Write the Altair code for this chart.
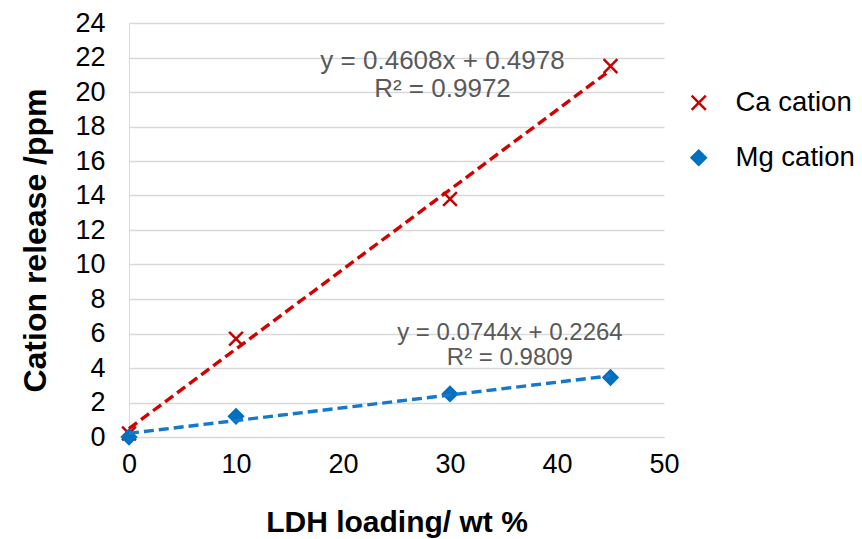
import altair as alt
import pandas as pd

loading = [0, 10, 30, 45]
ca_release = [0.2, 5.7, 13.8, 21.5]
mg_release = [0.0, 1.2, 2.5, 3.45]
series_names = ["Ca cation", "Mg cation"]
series_colors = ["#C80000", "#0070C0"]
line_colors = ["#D40000", "#1478CC"]
cross_path = "M-1,-1L1,1M-1,1L1,-1"
series_shapes = [cross_path, "diamond"]
x_ticks = [0, 10, 20, 30, 40, 50]
y_ticks = [0, 2, 4, 6, 8, 10, 12, 14, 16, 18, 20, 22, 24]

ann_text = ["y = 0.4608x + 0.4978", "R² = 0.9972", "y = 0.0744x + 0.2264", "R² = 0.9809"]
ann_x = [29.3, 29.3, 35.6, 35.6]
ann_y = [21.8, 20.2, 6.05, 4.6]
ann_size = [26, 26, 24, 24]

FONT = "Liberation Sans"

df = pd.DataFrame({
    "x": loading * 2,
    "y": ca_release + mg_release,
    "series": [series_names[0]] * 4 + [series_names[1]] * 4,
})
ann = pd.DataFrame({"x": ann_x, "y": ann_y, "t": ann_text, "s": ann_size})

xs = alt.Scale(domain=[0, 50], nice=False, zero=False)
ys = alt.Scale(domain=[0, 24], nice=False, zero=False)
cscale = alt.Scale(domain=series_names, range=series_colors)
lscale = alt.Scale(domain=series_names, range=line_colors)

x_axis = alt.Axis(title="LDH loading/ wt %", values=x_ticks, tickCount=6,
                  grid=False, ticks=False, domain=True, domainColor="#D9D9D9",
                  labelFontSize=27, labelPadding=14, labelColor="#000000",
                  labelFlush=False, labelOverlap=False,
                  labelFont=FONT, titleFont=FONT, titleFontSize=30,
                  titleFontWeight="bold", titlePadding=30, titleColor="#000000")
y_axis = alt.Axis(title="Cation release /ppm", values=y_ticks, tickCount=13,
                  grid=True, gridColor="#D9D9D9", gridWidth=1.5, ticks=False,
                  domain=True, domainColor="#D9D9D9",
                  labelFontSize=27, labelPadding=24, labelColor="#000000",
                  labelFlush=False, labelOverlap=False,
                  labelFont=FONT, titleFont=FONT, titleFontSize=32,
                  titleFontWeight="bold", titlePadding=22, titleColor="#000000",
                  titleY=217)


def leg():
    return alt.Legend(title=None, orient="none", legendX=556, legendY=66,
                      labelFontSize=27.5, labelFont=FONT, labelColor="#000000",
                      symbolSize=200, rowPadding=26, labelOffset=23,
                      symbolStrokeWidth=2.5)


base = alt.Chart(df)

lines = base.transform_regression("x", "y", groupby=["series"]).mark_line(
    strokeDash=[10, 5], strokeWidth=3.4
).encode(
    x=alt.X("x:Q", scale=xs, axis=x_axis),
    y=alt.Y("y:Q", scale=ys, axis=y_axis),
    detail="series:N",
    color=alt.Color("series:N", scale=lscale, legend=None),
)

points = base.mark_point(filled=False, strokeWidth=2.5, size=190, opacity=1).encode(
    x=alt.X("x:Q", scale=xs, axis=x_axis),
    y=alt.Y("y:Q", scale=ys, axis=y_axis),
    stroke=alt.Stroke("series:N", scale=cscale, legend=leg()),
    fill=alt.Fill("series:N", scale=cscale, legend=leg()),
    shape=alt.Shape("series:N", scale=alt.Scale(domain=series_names, range=series_shapes),
                    legend=leg()),
)

texts = alt.Chart(ann).mark_text(font=FONT, color="#595959", align="center",
                                 baseline="middle").encode(
    x=alt.X("x:Q", scale=xs, axis=x_axis), y=alt.Y("y:Q", scale=ys, axis=y_axis),
    text="t:N", size=alt.Size("s:Q", scale=None, legend=None)
)

chart = alt.layer(points, lines, texts).resolve_scale(color="independent").properties(
    width=535, height=414,
    autosize=alt.AutoSizeParams(type="none"),
    padding={"left": 121, "top": 15, "right": 190, "bottom": 102},
).configure_view(stroke=None)

chart.save("out.html", embed_options={"renderer": "svg", "actions": False})
